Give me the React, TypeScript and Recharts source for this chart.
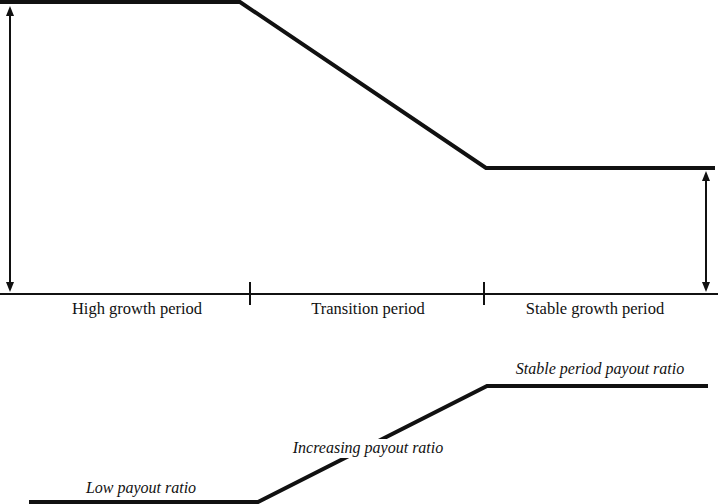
import React from 'react';
import { ComposedChart, Line, XAxis, YAxis, ReferenceLine, ReferenceDot } from 'recharts';

// Top panel: growth rate path (x = time position, y = growth level above the time axis)
const growthX = [0, 240, 486, 715];
const growthY = [292, 292, 126, 126];
// Bottom panel: payout ratio path
const payoutX = [29, 258, 487, 708];
const payoutY = [2, 2, 118, 118];
// Period boundaries and labels
const periodBreaks = [250, 484];
const periodNames = ['High growth period', 'Transition period', 'Stable growth period'];
const periodLabelX = [137, 368, 595];
const periodLabelY = -20;
// Payout labels
const payoutNames = ['Low payout ratio', 'Increasing payout ratio', 'Stable period payout ratio'];
const payoutLabelX = [141, 368, 600];
const payoutLabelY = [11, 51, 130];
const payoutLabelMask = [false, true, false];
// Double-headed arrows: [x, top, bottom] in growth units
const arrowX = [10, 706];
const arrowTop = [288, 123];
const arrowBottom = [2, 2];

const growthData = growthX.map((x, i) => ({ x, growth: growthY[i] }));
const payoutData = payoutX.map((x, i) => ({ x, payout: payoutY[i] }));

const INK = '#111';
const FONT = "'Liberation Serif', 'Times New Roman', serif";

const DoubleArrow = (p: any) => {
  const { x1, y1, y2 } = p;
  const top = Math.min(y1, y2);
  const bottom = Math.max(y1, y2);
  const hl = 10;
  const hw = 4;
  return (
    <g>
      <line x1={x1} y1={top + hl - 1} x2={x1} y2={bottom - hl + 1} stroke={INK} strokeWidth={2} />
      <polygon points={`${x1},${top} ${x1 - hw},${top + hl} ${x1 + hw},${top + hl}`} fill={INK} />
      <polygon points={`${x1},${bottom} ${x1 - hw},${bottom - hl} ${x1 + hw},${bottom - hl}`} fill={INK} />
    </g>
  );
};

const makeLabel = (text: string, italic: boolean, mask: boolean, size: number) => (p: any) => (
  <g>
    {mask && <rect x={p.cx - 80} y={p.cy - 14} width={160} height={19} fill="#fff" />}
    <text
      x={p.cx}
      y={p.cy}
      textAnchor="middle"
      fontFamily={FONT}
      fontSize={size}
      fontStyle={italic ? 'italic' : 'normal'}
      fill={INK}
    >
      {text}
    </text>
  </g>
);

export default function App() {
  return (
    <div style={{ width: 718, height: 504, background: '#fff' }}>
      <style>{`body{margin:0;background:#fff}`}</style>
      <ComposedChart width={718} height={504} margin={{ top: 0, right: 0, bottom: 0, left: 0 }}>
        <XAxis type="number" dataKey="x" domain={[0, 718]} hide allowDataOverflow />
        <YAxis yAxisId="growth" type="number" domain={[-210, 294]} hide allowDataOverflow />
        <YAxis yAxisId="payout" type="number" domain={[0, 504]} hide allowDataOverflow />

        <ReferenceLine yAxisId="growth" y={0} stroke={INK} strokeWidth={2} />
        {periodBreaks.map((b) => (
          <ReferenceLine
            key={'b' + b}
            yAxisId="growth"
            segment={[{ x: b, y: 12 }, { x: b, y: -11 }]}
            stroke={INK}
            strokeWidth={2}
          />
        ))}
        {arrowX.map((x, i) => (
          <ReferenceLine
            key={'a' + i}
            yAxisId="growth"
            segment={[{ x, y: arrowTop[i] }, { x, y: arrowBottom[i] }]}
            stroke={INK}
            shape={DoubleArrow}
            ifOverflow="visible"
          />
        ))}

        <Line
          yAxisId="growth"
          data={growthData}
          dataKey="growth"
          stroke={INK}
          strokeWidth={4}
          dot={false}
          activeDot={false}
          strokeLinejoin="miter"
          isAnimationActive={false}
        />
        <Line
          yAxisId="payout"
          data={payoutData}
          dataKey="payout"
          stroke={INK}
          strokeWidth={4}
          dot={false}
          activeDot={false}
          strokeLinejoin="miter"
          isAnimationActive={false}
        />

        {periodNames.map((n, i) => (
          <ReferenceDot
            key={'p' + i}
            yAxisId="growth"
            x={periodLabelX[i]}
            y={periodLabelY}
            r={0}
            shape={makeLabel(n, false, false, 16.5)}
          />
        ))}
        {payoutNames.map((n, i) => (
          <ReferenceDot
            key={'q' + i}
            yAxisId="payout"
            x={payoutLabelX[i]}
            y={payoutLabelY[i]}
            r={0}
            shape={makeLabel(n, true, payoutLabelMask[i], 16)}
            zIndex={1000}
          />
        ))}
      </ComposedChart>
    </div>
  );
}
